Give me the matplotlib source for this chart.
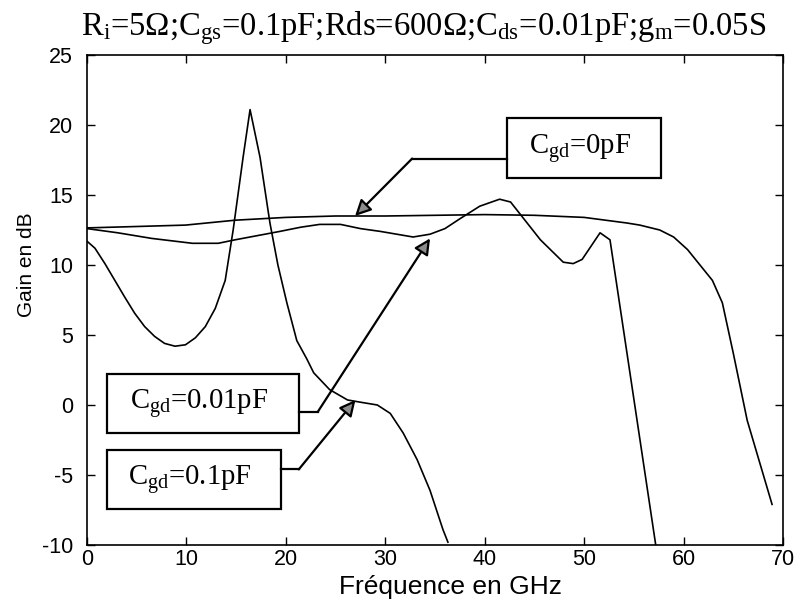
import matplotlib
matplotlib.use('Agg')
import matplotlib.pyplot as plt
from matplotlib.patches import Rectangle

plt.rcParams['font.family'] = ['Liberation Sans', 'DejaVu Sans']
plt.rcParams['mathtext.fontset'] = 'custom'
plt.rcParams['mathtext.rm'] = 'Liberation Serif'
plt.rcParams['mathtext.it'] = 'Liberation Serif:italic'
plt.rcParams['axes.unicode_minus'] = False

# Cgd = 0 pF
f_0 = [0, 5, 9.9, 14.9, 20, 25, 30, 35, 40, 45, 50, 54.3, 55.6, 57.6, 59, 60.4, 62.9, 63.9, 65, 66.4, 68.9]
g_0 = [12.65, 12.75, 12.85, 13.2, 13.4, 13.5, 13.5, 13.55, 13.6, 13.55, 13.4, 13.0, 12.85, 12.5, 12.0, 11.1, 8.9, 7.3, 3.7, -1.1, -7.1]

# Cgd = 0.01 pF
f_001 = [0, 3.1, 6.5, 10.6, 13.2, 14.9, 17.9, 19.4, 21.5, 23.4, 25.5, 27.5, 29.5, 32.8, 34.5, 36, 37.5, 39.5,
         41.5, 42.6, 43.6, 45.6, 47.9, 48.9, 49.8, 51.6, 52.6, 57.2]
g_001 = [12.6, 12.3, 11.9, 11.55, 11.55, 11.8, 12.2, 12.4, 12.7, 12.9, 12.9, 12.6, 12.4, 12.0, 12.2, 12.6, 13.3, 14.2,
         14.7, 14.5, 13.6, 11.8, 10.2, 10.1, 10.4, 12.3, 11.8, -10]

# Cgd = 0.1 pF
f_01 = [0, 0.8, 1.8, 2.8, 3.8, 4.8, 5.8, 6.8, 7.8, 8.85, 9.9, 10.9, 11.9, 12.9, 13.9, 14.7, 15.7, 16.4,
        17.4, 18.4, 19.2, 20.1, 21.1, 22.1, 22.8, 24.4, 26.2, 27.5, 29.2, 30.5, 31.8, 33.2, 34.5, 35.8, 36.3]
g_01 = [11.7, 11.2, 10.1, 8.9, 7.7, 6.55, 5.6, 4.9, 4.4, 4.2, 4.3, 4.8, 5.6, 6.9, 8.9, 12.5, 17.7, 21.1,
        17.7, 13.0, 10.0, 7.3, 4.6, 3.3, 2.3, 1.1, 0.36, 0.2, 0.0, -0.6, -2.0, -3.9, -6.1, -8.9, -9.8]

x_ticks = [0, 10, 20, 30, 40, 50, 60, 70]
y_ticks = [-10, -5, 0, 5, 10, 15, 20, 25]

fig = plt.figure(figsize=(7.95, 6.05), dpi=100)
ax = fig.add_axes([87/795, 60/605, 696/795, 490/605])

for f, g in [(f_0, g_0), (f_001, g_001), (f_01, g_01)]:
    ax.plot(f, g, color='black', linewidth=1.2)

ax.set_xlim(0, 70)
ax.set_ylim(-10, 25)
ax.set_xticks(x_ticks)
ax.set_yticks(y_ticks)
ax.tick_params(direction='in', top=True, right=True, length=6, width=1, labelsize=15.5)
ax.tick_params(axis='x', pad=3)
ax.tick_params(axis='y', pad=10)
for s in ax.spines.values():
    s.set_linewidth(1.2)

ax.set_xlabel('Fréquence en GHz', fontsize=19)
ax.xaxis.set_label_coords(0.5216, -0.062)
ax.set_ylabel('Gain en dB', fontsize=15)
ax.yaxis.set_label_coords(-0.073, 0.573)

fig.text(424/795, 1 - 35/605,
         r'R$_\mathrm{i}$=5Ω;C$_\mathrm{gs}$=0.1pF;Rds=600Ω;C$_\mathrm{ds}$=0.01pF;g$_\mathrm{m}$=0.05S',
         family='Liberation Serif', fontsize=23.5, ha='center', va='baseline')

# label boxes and their leader arrows
boxes = [
    ((42.2, 16.2), 15.5, 4.3, r'C$_\mathrm{gd}$=0pF',
     [(42.2, 17.6), (32.7, 17.6)], (26.96, 13.5)),
    ((2.0, -2.0), 19.3, 4.2, r'C$_\mathrm{gd}$=0.01pF',
     [(21.3, -0.5), (23.2, -0.5)], (34.5, 11.9)),
    ((2.0, -7.4), 17.5, 4.2, r'C$_\mathrm{gd}$=0.1pF',
     [(19.5, -4.6), (21.3, -4.6)], (27.0, 0.36)),
]
for (x0, y0), w, h, label, path, tip in boxes:
    ax.add_patch(Rectangle((x0, y0), w, h, fill=True, facecolor='white', edgecolor='black', linewidth=1.6, zorder=3))
    ax.text(x0 + w/2 - 0.4, y0 + h/2, label, fontsize=20.7, family='Liberation Serif', ha='center', va='center', zorder=4)
    ax.plot([p[0] for p in path], [p[1] for p in path], color='black', linewidth=1.6, zorder=3)
    ax.annotate('', xy=tip, xytext=path[-1],
                arrowprops=dict(arrowstyle='-|>', color='black', lw=1.6, mutation_scale=24,
                                fc='0.55', shrinkA=0, shrinkB=0), zorder=3)

fig.savefig('out.png', dpi=100)
